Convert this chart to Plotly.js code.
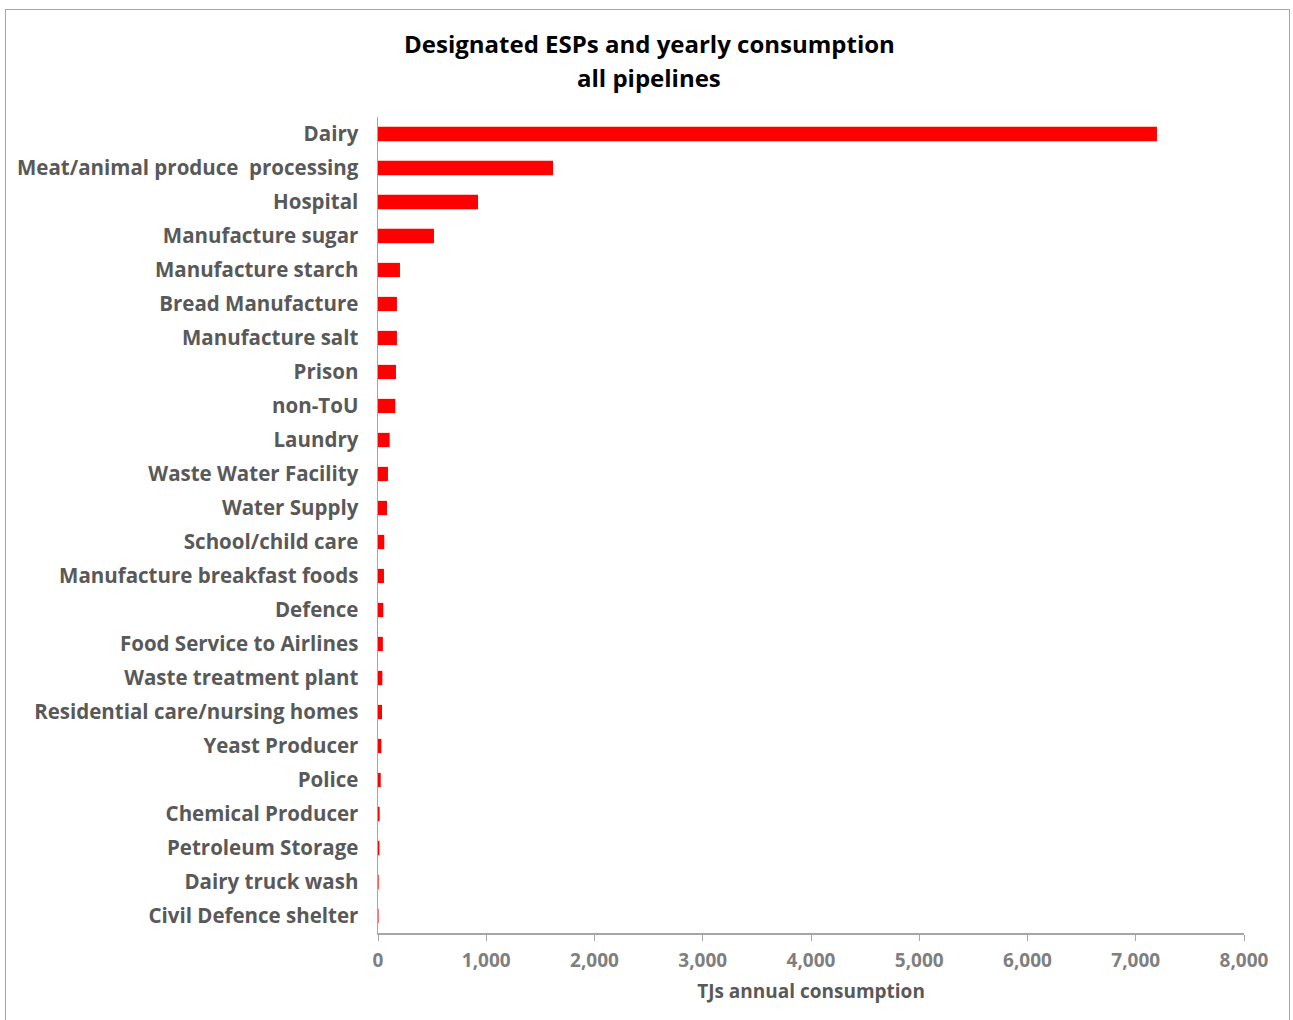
<!DOCTYPE html>
<html><head><meta charset="utf-8">
<script src="https://cdn.plot.ly/plotly-3.0.1.min.js"></script>
<style>
html,body{margin:0;padding:0;background:#fff;}
#wrap{position:relative;width:1293px;height:1020px;}
#chart{position:absolute;left:0;top:0;width:1293px;height:1020px;}
#frame{position:absolute;left:5px;top:9px;width:1285px;height:1020px;border:1.5px solid #a6a6a6;box-sizing:border-box;pointer-events:none;}
</style></head>
<body><div id="wrap"><div id="chart"></div><div id="frame"></div></div>
<script>
const categories = [
  "Dairy","Meat/animal produce  processing","Hospital","Manufacture sugar","Manufacture starch",
  "Bread Manufacture","Manufacture salt","Prison","non-ToU","Laundry","Waste Water Facility",
  "Water Supply","School/child care","Manufacture breakfast foods","Defence","Food Service to Airlines",
  "Waste treatment plant","Residential care/nursing homes","Yeast Producer","Police",
  "Chemical Producer","Petroleum Storage","Dairy truck wash","Civil Defence shelter"
];
const consumption = [7196,1617,924,517,203,175,175,166,160,108,92,83,58,55,49,45,40,37,31,25,15,13,6,5];
const xTicks = [0,1000,2000,3000,4000,5000,6000,7000,8000];
const titleLines = ["Designated ESPs and yearly consumption", "all pipelines"];

const font = "'Open Sans', sans-serif";
Plotly.newPlot('chart', [{
  type:'bar', orientation:'h',
  x: consumption, y: categories,
  marker:{color:'#ff0000'},
  width:0.42,
  hoverinfo:'x+y'
}], {
  width:1293, height:1020,
  margin:{l:378, r:49, t:117, b:87},
  paper_bgcolor:'#fff', plot_bgcolor:'#fff',
  annotations:[
    {text:'<b>'+titleLines[0]+'</b>', xref:'paper', yref:'paper', x:0.313, xanchor:'center', y:1.0895, yanchor:'middle', showarrow:false, font:{family:font, size:24, color:'#000'}},
    {text:'<b>'+titleLines[1]+'</b>', xref:'paper', yref:'paper', x:0.313, xanchor:'center', y:1.0478, yanchor:'middle', showarrow:false, font:{family:font, size:24, color:'#000'}}
  ],
  xaxis:{range:[0,8000], tickvals:xTicks, ticktext:xTicks.map(v=>v.toLocaleString('en-US')),
    showgrid:false, zeroline:false, showline:true, linecolor:'#a6a6a6', linewidth:1.5,
    ticks:'outside', ticklen:6, tickcolor:'#a6a6a6', ticklabelstandoff:4,
    tickfont:{family:font, size:19, color:'#7f7f7f', weight:'bold'},
    title:{text:'<b>TJs annual consumption</b>', font:{family:font, size:19, color:'#595959'}, standoff:12}},
  yaxis:{categoryorder:'array', categoryarray:categories, autorange:'reversed',
    showgrid:false, zeroline:false, showline:true, linecolor:'#a6a6a6', linewidth:1.5,
    ticks:'', ticklabelstandoff:14,
    tickfont:{family:font, size:20.5, color:'#595959', weight:'bold'}},
  showlegend:false, bargap:0.58
}, {displayModeBar:false, staticPlot:true});
</script></body></html>
